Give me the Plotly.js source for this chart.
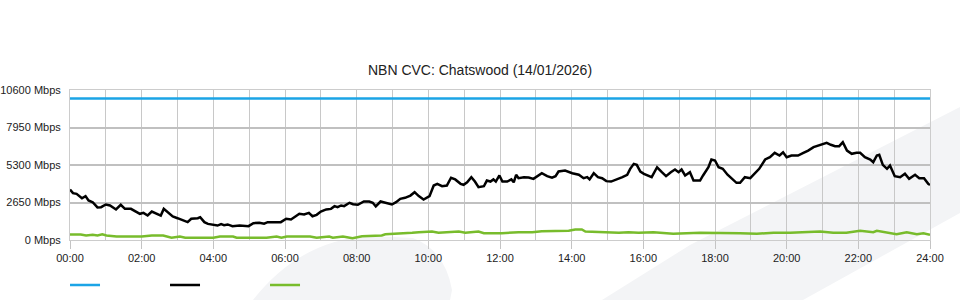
<!DOCTYPE html>
<html>
<head>
<meta charset="utf-8">
<script src="https://cdn.plot.ly/plotly-3.0.1.min.js"></script>
<style>html,body{margin:0;padding:0;background:#fff;}#chart{width:960px;height:300px;}</style>
</head>
<body>
<div id="chart"></div>
<script>
// ---- data (minutes after midnight, Mbps) ----
var capacityMinutes = [0, 1440];
var capacityValues = [10000, 10000];

var downMinutes = [0,5,11,20,26,31,38,46,52,60,67,77,85,92,102,111,117,123,130,137,145,152,157,164,172,180,189,197,203,214,218,225,231,239,247,253,258,264,272,284,292,299,307,317,325,331,338,346,353,362,370,378,384,392,400,406,413,420,429,437,443,448,454,459,468,474,482,492,501,507,512,520,528,539,546,553,561,570,577,584,592,602,609,615,623,631,638,645,654,659,665,672,678,684,693,698,704,709,713,719,724,732,739,743,747,751,760,768,776,784,790,799,807,813,818,829,841,852,860,866,870,877,884,891,898,906,916,925,933,938,944,949,955,961,974,983,991,998,1006,1013,1019,1024,1030,1038,1044,1055,1060,1069,1074,1080,1086,1093,1101,1108,1116,1122,1130,1139,1147,1154,1164,1172,1180,1188,1194,1200,1208,1219,1228,1236,1245,1253,1261,1267,1274,1281,1288,1294,1301,1309,1317,1323,1331,1340,1345,1351,1355,1361,1368,1373,1381,1390,1398,1405,1415,1422,1430,1437,1440];
var downValues = [3570,3310,3260,2950,3100,2790,2670,2300,2320,2510,2440,2160,2490,2200,2200,2010,1850,1920,1730,2010,1850,1730,2200,1920,1660,1540,1380,1260,1500,1540,1610,1260,1140,1100,1020,1120,1050,1100,980,1020,1000,980,1190,1220,1150,1260,1260,1240,1260,1500,1450,1680,1850,1800,1920,1680,1780,2010,2160,2200,2390,2320,2440,2390,2630,2530,2490,2720,2720,2630,2370,2720,2630,2510,2670,2910,2980,3140,3380,3100,2860,3100,3850,3970,3800,3850,4400,4280,3970,3900,4080,4440,4130,3730,3800,4200,4130,4280,4130,4560,4130,4130,4280,4080,4610,4370,4440,4420,4320,4560,4720,4510,4400,4510,4840,4910,4720,4610,4370,4440,4280,4720,4440,4370,4160,4130,4280,4440,4610,5030,5380,5310,4840,4680,4440,5140,4790,4510,4790,4980,4790,4980,4560,4790,4200,4200,4560,5140,5690,5620,5140,5030,4610,4320,4040,4040,4440,4370,4750,5030,5690,5850,6160,5970,6200,5850,5970,5970,6160,6320,6560,6680,6800,6870,6730,6630,6630,6910,6320,6090,6160,6160,5850,5690,5500,5970,6020,5310,5030,5260,4510,4440,4680,4320,4610,4370,4370,3970,3900];

var upMinutes = [0,18,27,38,46,54,61,78,120,137,156,164,170,184,193,240,251,273,279,329,346,354,363,402,413,434,440,457,473,489,506,522,528,556,573,584,606,617,634,651,662,684,693,723,751,774,790,818,835,846,857,863,885,908,919,935,952,977,1010,1055,1094,1122,1150,1178,1206,1228,1256,1278,1300,1323,1345,1351,1367,1384,1401,1418,1429,1440];
var upValues = [390,390,320,370,320,400,320,250,250,320,320,250,160,250,160,160,250,250,160,160,250,160,250,250,160,250,160,250,130,270,320,320,410,440,510,550,600,510,550,600,510,600,480,480,550,550,620,650,650,740,740,600,550,550,510,550,510,550,440,510,510,480,440,510,510,550,600,510,510,650,550,650,510,410,550,410,480,370];

var tickHours = [0,2,4,6,8,10,12,14,16,18,20,22,24];
var tickLabels = ["00:00","02:00","04:00","06:00","08:00","10:00","12:00","14:00","16:00","18:00","20:00","22:00","24:00"];
var yTickValues = [0,2650,5300,7950,10600];
var yTickLabels = ["0 Mbps","2650 Mbps","5300 Mbps","7950 Mbps","10600 Mbps"];
var chartTitle = "NBN CVC: Chatswood (14/01/2026)";

function toHours(arr){ return arr.map(function(m){ return m/60; }); }

var traces = [
  {x: toHours(capacityMinutes), y: capacityValues, type: 'scatter', mode: 'lines', name: '',
   line: {color: '#1ba4e6', width: 2.5}, hoverinfo: 'skip'},
  {x: toHours(downMinutes), y: downValues, type: 'scatter', mode: 'lines', name: '',
   line: {color: '#000000', width: 2.5}, hoverinfo: 'skip'},
  {x: toHours(upMinutes), y: upValues, type: 'scatter', mode: 'lines', name: '',
   line: {color: '#78bc2c', width: 2.5}, hoverinfo: 'skip'}
];

var font = {family: '"Liberation Sans", Arial, sans-serif', size: 11, color: '#222'};

var layout = {
  width: 960, height: 300,
  margin: {l: 70, r: 30, t: 90, b: 60, pad: 0, autoexpand: false},
  paper_bgcolor: '#ffffff',
  plot_bgcolor: 'rgba(0,0,0,0)',
  font: font,
  title: {text: chartTitle, font: {family: '"Liberation Sans", Arial, sans-serif', size: 14, color: '#222'},
          x: 0.5, xref: 'container', y: 0.767, yref: 'container', yanchor: 'middle'},
  showlegend: true,
  legend: {orientation: 'h', x: -0.0058, xanchor: 'left', xref: 'paper', y: 0.05, yref: 'container', yanchor: 'middle',
           entrywidth: 55, entrywidthmode: 'pixels', font: font, bgcolor: 'rgba(0,0,0,0)'},
  xaxis: {range: [0, 24], tickvals: tickHours, ticktext: tickLabels, ticks: 'outside', ticklen: 8,
          tickcolor: '#c4c4c4', tickwidth: 1, showgrid: true, gridcolor: '#c8c8c8', gridwidth: 1,
          minor: {dtick: 1, tick0: 0, showgrid: true, gridcolor: '#c8c8c8', gridwidth: 1, ticks: ''},
          showline: true, linecolor: '#cccccc', linewidth: 1, mirror: true, zeroline: false,
          fixedrange: true, tickfont: font},
  yaxis: {range: [0, 10600], tickvals: yTickValues, ticktext: yTickLabels, ticks: '',
          showgrid: true, gridcolor: '#c0c0c0', gridwidth: 2,
          showline: true, linecolor: '#cccccc', linewidth: 1, mirror: true, zeroline: false,
          fixedrange: true, tickfont: font, ticklabelstandoff: 6},
  shapes: [
    {type: 'path', xref: 'paper', yref: 'paper', layer: 'below', line: {width: 0}, fillcolor: '#f3f4f6',
     path: 'M0.2128,-0.4 Q0.2674,0 0.3488,0.0267 L0.3988,0.0133 Q0.4360,-0.0667 0.4442,-0.3333 L0.4419,-0.4 Z'},
    {type: 'path', xref: 'paper', yref: 'paper', layer: 'below', line: {width: 0}, fillcolor: '#f3f4f6',
     path: 'M0.6186,-0.4 L0.7209,-0.0333 L1.0349,0.8867 L1.0349,0.18 L0.8523,-0.4 Z'}
  ]
};

Plotly.newPlot('chart', traces, layout, {displayModeBar: false, staticPlot: true});
</script>
</body>
</html>
